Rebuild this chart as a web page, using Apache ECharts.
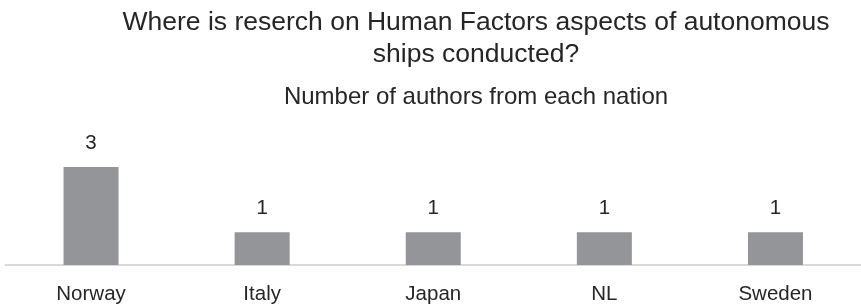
<!DOCTYPE html>
<html>
<head>
<meta charset="utf-8">
<script src="https://cdn.jsdelivr.net/npm/echarts@6/dist/echarts.min.js"></script>
<style>
html,body{margin:0;padding:0;background:#fff;}
#c{width:861px;height:305px;}
</style>
</head>
<body>
<div id="c"></div>
<script>
const titleText = 'Where is reserch on Human Factors aspects of autonomous\nships conducted?';
const subtitleText = 'Number of authors from each nation';
const categories = ['Norway', 'Italy', 'Japan', 'NL', 'Sweden'];
const authors = [3, 1, 1, 1, 1];

const chart = echarts.init(document.getElementById('c'), null, {renderer: 'canvas'});
const font = 'Liberation Sans';
chart.setOption({
  animation: false,
  backgroundColor: '#ffffff',
  title: [
    {
      text: titleText,
      left: 471, top: 2, textAlign: 'center',
      textStyle: {fontFamily: font, fontSize: 26.5, fontWeight: 'normal', color: '#262626', lineHeight: 32}
    },
    {
      text: subtitleText,
      left: 471, top: 80, textAlign: 'center',
      textStyle: {fontFamily: font, fontSize: 24, fontWeight: 'normal', color: '#262626', lineHeight: 24}
    }
  ],
  grid: {left: 5.5, width: 861, top: 167, height: 100},
  xAxis: {
    type: 'category',
    data: categories,
    axisLine: {show: true, lineStyle: {color: '#d9d9d9', width: 2}},
    axisTick: {show: false},
    axisLabel: {fontFamily: font, fontSize: 20.5, color: '#262626', margin: 19}
  },
  yAxis: {
    type: 'value', min: 0, max: 3, show: false,
    splitLine: {show: false}
  },
  series: [{
    type: 'bar',
    data: authors,
    barWidth: 55,
    itemStyle: {color: '#939598'},
    label: {show: true, position: 'top', distance: 13, fontFamily: font, fontSize: 20.5, color: '#262626'}
  }]
});
</script>
</body>
</html>
